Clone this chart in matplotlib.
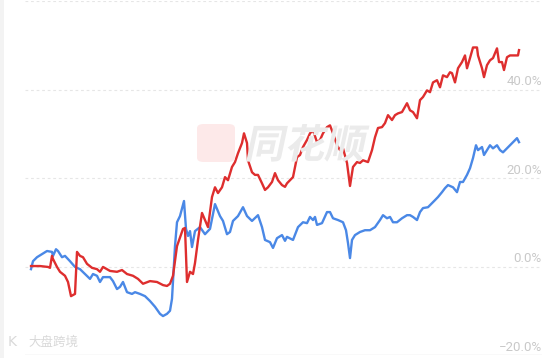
import matplotlib
matplotlib.use("Agg")
import matplotlib.pyplot as plt
from matplotlib.patches import FancyBboxPatch, Rectangle, PathPatch
from matplotlib.textpath import TextPath
from matplotlib.font_manager import FontProperties
from matplotlib.transforms import Affine2D, IdentityTransform

# trading day index and cumulative return (%)
red_day = [0, 9, 17, 19, 21, 22, 26, 29, 34, 37, 40, 44, 46, 49, 52, 56, 61, 66, 69, 72,
           79, 86, 91, 96, 102, 107, 112, 119, 126, 132, 136, 139, 142, 146, 152, 154, 156, 159, 162, 164,
           167, 171, 174, 177, 181, 184, 187, 191, 194, 197, 201, 204, 207, 211, 213, 216, 217, 221, 224, 227,
           231, 234, 237, 241, 244, 247, 251, 254, 256, 262, 266, 269, 272, 276, 279, 282, 286, 289, 292, 296,
           299, 302, 306, 309, 312, 316, 319, 322, 326, 329, 332, 337, 341, 344, 347, 351, 354, 357, 361, 364,
           367, 371, 376, 379, 382, 386, 389, 392, 396, 399, 402, 406, 409, 412, 416, 419, 421, 424, 427, 431,
           434, 436, 439, 442, 446, 447, 451, 453, 456, 459, 462, 466, 468, 471, 473, 476, 479, 484, 487, 488]
red_pct = [0.1, 0.1, -0.1, -0.3, 2.4, 1.7, -0.1, -1.2, -2.1, -3.5, -6.7, -6.2, 3.3, 2.4, 2.1, 0.6, -0.3, -0.6, -1.2, -0.1,
           -1.0, -1.2, -0.8, -1.7, -2.1, -2.8, -3.9, -3.3, -3.5, -4.2, -4.4, -3.9, -2.1, 4.6, 8.5, 8.7, -3.5, -1.2, -1.7, 0.8,
           6.0, 12.1, 10.5, 8.9, 15.7, 17.9, 16.6, 17.9, 20.2, 19.5, 22.5, 23.6, 25.6, 27.9, 30.1, 27.9, 24.0, 21.3, 20.7, 20.7,
           18.8, 17.3, 17.9, 19.1, 21.1, 19.5, 18.4, 18.0, 18.8, 20.2, 24.7, 25.2, 27.0, 28.6, 30.1, 30.8, 28.1, 28.6, 30.1, 31.5,
           31.9, 30.1, 27.4, 26.3, 26.7, 23.4, 18.2, 22.5, 23.6, 23.4, 24.0, 23.6, 26.3, 29.2, 31.3, 31.5, 32.4, 34.2, 33.1, 34.2,
           34.6, 34.9, 36.9, 35.3, 34.9, 33.5, 37.6, 38.3, 39.8, 39.4, 41.6, 42.1, 40.5, 43.2, 42.8, 43.9, 43.7, 41.6, 44.8, 46.2,
           47.7, 44.8, 47.1, 49.5, 49.5, 47.7, 44.8, 42.8, 45.5, 46.6, 47.1, 49.3, 46.2, 46.2, 44.4, 47.3, 47.7, 47.7, 47.7, 48.9]

blue_day = [0, 2, 6, 11, 16, 21, 22, 25, 27, 31, 34, 39, 44, 49, 54, 59, 62, 66, 69, 72,
            79, 82, 86, 89, 92, 96, 101, 104, 109, 114, 119, 124, 129, 132, 136, 139, 141, 144, 146, 149,
            153, 155, 157, 159, 161, 164, 169, 174, 179, 184, 189, 192, 196, 199, 202, 207, 212, 216, 221, 227,
            231, 234, 239, 242, 246, 251, 254, 256, 262, 267, 272, 276, 279, 282, 284, 286, 291, 296, 299, 302,
            307, 312, 315, 317, 319, 321, 324, 329, 334, 339, 344, 349, 352, 356, 359, 362, 366, 371, 376, 379,
            382, 386, 389, 392, 397, 401, 404, 407, 411, 414, 417, 422, 426, 429, 432, 436, 439, 442, 445, 447,
            451, 453, 456, 459, 462, 466, 469, 472, 476, 479, 482, 486, 488]
blue_pct = [-0.6, 1.2, 2.1, 2.8, 3.5, 3.3, 2.4, 3.9, 3.5, 2.1, 2.4, 1.2, -0.1, -0.6, -1.7, -2.8, -1.7, -2.1, -3.5, -2.4,
            -2.4, -3.3, -5.1, -4.6, -3.5, -5.8, -6.2, -5.8, -6.2, -6.7, -7.8, -9.1, -10.7, -11.2, -10.7, -10.0, -7.3, 4.6, 10.0, 11.4,
            14.8, 8.5, 6.9, 8.0, 4.4, 8.0, 8.9, 7.3, 8.5, 14.1, 11.4, 10.3, 7.3, 7.8, 10.3, 11.4, 13.4, 11.4, 10.3, 11.6,
            8.9, 6.0, 5.5, 4.2, 6.4, 7.1, 5.8, 6.7, 6.0, 8.9, 10.0, 9.8, 11.2, 10.5, 11.2, 9.4, 9.8, 12.3, 12.3, 10.9,
            10.5, 10.0, 8.2, 5.3, 1.9, 6.0, 7.1, 7.8, 8.2, 8.2, 8.9, 10.5, 11.6, 10.9, 11.2, 10.0, 10.0, 10.9, 11.6, 11.6,
            11.2, 10.5, 12.3, 13.2, 13.4, 14.3, 15.0, 15.7, 16.8, 17.7, 18.4, 17.9, 16.8, 19.1, 19.1, 20.7, 22.2, 24.5, 27.4, 26.3,
            27.0, 25.2, 26.3, 27.4, 26.7, 27.4, 26.3, 25.8, 26.7, 27.4, 28.1, 29.0, 28.1]

y_ticks = [-20, 0, 20, 40, 60]
y_labels = ["\u221220.0%", "0.0%", "20.0%", "40.0%", "60.0%"]

W, H = 554, 358
fig = plt.figure(figsize=(W / 100, H / 100), dpi=100)
fig.patch.set_facecolor("white")

# grey strip on the left edge
fig.patches.append(Rectangle((0, 0), 4 / W, 1, transform=fig.transFigure,
                             facecolor="#f3f3f3", edgecolor="none"))

ax = fig.add_axes([25 / W, 3 / H, 517 / W, 354 / H])
ax.set_xlim(-6, 511)
ax.set_ylim(-20, 60)
ax.axis("off")

for v in y_ticks:
    if v == -20:
        ax.axhline(v, color="#e2e2e2", lw=1.0, zorder=1)
    else:
        ax.axhline(v, color="#e6e6e6", lw=0.8, ls=(0, (2.5, 2.5)), zorder=1)

for v, lab in zip(y_ticks, y_labels):
    if v >= 60:
        continue
    ax.annotate(lab, xy=(1.0, v), xycoords=("axes fraction", "data"),
                xytext=(0, 3), textcoords="offset points",
                ha="right", va="baseline", fontsize=9.5, color="#c9c9c9",
                family="Roboto")

# watermarks
fig.patches.append(FancyBboxPatch((197 / W, 1 - 162 / H), 38 / W, 38 / H,
                                  boxstyle="round,pad=0,rounding_size=0.012",
                                  transform=fig.transFigure,
                                  facecolor="#fde9e9", edgecolor="none", zorder=0))
wm_path = TextPath((0, 0), "同花顺", size=40,
                   prop=FontProperties(family="Noto Sans CJK SC", weight="bold"))
wm_tr = Affine2D().skew_deg(12, 0).translate(244, H - 158)
fig.patches.append(PathPatch(wm_tr.transform_path(wm_path), transform=IdentityTransform(),
                             facecolor="#ebebeb", edgecolor="none", zorder=0))
fig.text(28 / W, 1 - 342 / H, "大盘跨境", fontsize=9, color="#d9d9d9",
         family="Noto Sans CJK SC", va="center", ha="left")
fig.text(8 / W, 1 - 342 / H, "K", fontsize=10, color="#d9d9d9", va="center", ha="left")

ax.plot(blue_day, blue_pct, color="#4a88e6", lw=1.7, zorder=3, solid_joinstyle="round")
ax.plot(red_day, red_pct, color="#de2e2e", lw=1.7, zorder=4, solid_joinstyle="round")

fig.savefig("out.png", dpi=100)
